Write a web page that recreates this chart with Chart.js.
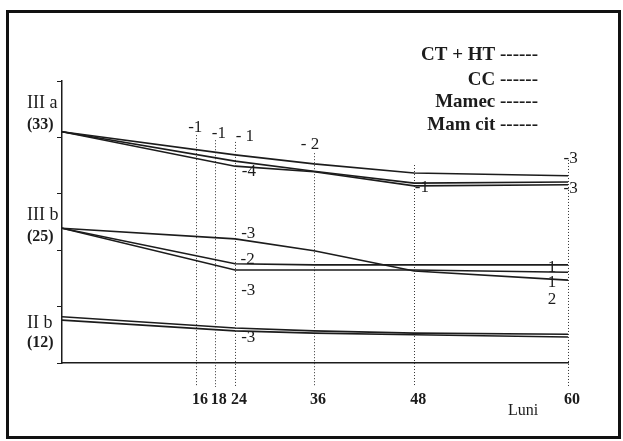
<!DOCTYPE html>
<html>
<head>
<meta charset="utf-8">
<script src="https://cdn.jsdelivr.net/npm/chart.js@4.4.1/dist/chart.umd.min.js"></script>
<style>
html,body{margin:0;padding:0;background:#fff;}
#wrap{position:relative;width:623px;height:441px;}
</style>
</head>
<body>
<div id="wrap"><canvas id="chart" width="623" height="441"></canvas></div>
<script>
// ===== Data =====
const months = [0, 24, 36, 48, 60];
const tickMonths = [16, 18, 24, 36, 48, 60];

// group III a (33)
const iiiA1 = [41.0, 36.9, 35.3, 33.7, 33.2];
const iiiA2 = [41.0, 35.8, 34.0, 31.9, 32.1];
const iiiA3 = [41.0, 34.9, 33.9, 31.4, 31.6];
// group III b (25)
const iiiB1 = [23.9, 22.0, 19.9, 16.3, 14.7];
const iiiB2 = [23.9, 17.6, 17.4, 17.4, 17.4];
const iiiB3 = [23.9, 16.5, 16.5, 16.5, 16.1];
// group II b (12)
const iiB1 = [8.2, 6.2, 5.7, 5.3, 5.1];
const iiB2 = [7.6, 5.7, 5.3, 5.0, 4.6];

const groupNames = ["III a", "III b", "II b"];
const groupCounts = ["(33)", "(25)", "(12)"];
const groupNameValues = [46.1, 26.2, 7.1];
const groupCountValues = [42.2, 22.3, 3.5];

const legendTexts = ["CT + HT ------", "CC ------", "Mamec ------", "Mam cit ------"];

// numbers written next to the curves
const noteTexts  = ["-1", "-1", "- 1", "- 2", "-4", "-1", "-3", "-3", "-3", "-2", "-3", "1", "1", "2", "-3"];
const noteMonths = [15.9, 19.2, 25.5, 35.4, 26.1, 48.6, 60.2, 60.2, 26.0, 25.9, 26.0, 58.75, 58.75, 58.75, 26.0];
const noteValues = [41.7, 40.6, 40.1, 38.7, 33.9, 31.2, 36.2, 31.0, 22.9, 18.4, 12.9, 17.0, 14.2, 11.3, 4.6];

// dotted guides at the ticks, and where each one starts
const guideMonths = [16, 18, 24, 36, 48, 60];
const guideTops = [40.4, 39.5, 39.2, 37.2, 35.1, 36.0];

// ===== Uneven time axis (the original is drawn schematically) =====
const axisMonths = [0, 16, 18, 24, 36, 48, 60];
const axisFrac = [0, 0.265, 0.302, 0.342, 0.498, 0.696, 1];

class PiecewiseScale extends Chart.LinearScale {
  static id = "piecewise";
  static defaults = Chart.LinearScale.defaults;
  monthToDec(v){
    let i = 0;
    while(i < axisMonths.length - 2 && v > axisMonths[i+1]) i++;
    const m0 = axisMonths[i], m1 = axisMonths[i+1];
    return axisFrac[i] + (v - m0) / (m1 - m0) * (axisFrac[i+1] - axisFrac[i]);
  }
  getPixelForValue(v){
    if(v === null || v === undefined) return NaN;
    return this.getPixelForDecimal(this.monthToDec(v));
  }
  getValueForPixel(p){
    const d = this.getDecimalForPixel(p);
    let i = 0;
    while(i < axisFrac.length - 2 && d > axisFrac[i+1]) i++;
    return axisMonths[i] + (d - axisFrac[i]) / (axisFrac[i+1] - axisFrac[i]) * (axisMonths[i+1] - axisMonths[i]);
  }
}
Chart.register(PiecewiseScale);

const serif = "'Liberation Serif', 'Times New Roman', serif";
const ink = "#1c1c1c";

function series(label, vals){
  return {
    label,
    data: months.map((m, i) => ({x: m, y: vals[i]})),
    borderColor: ink,
    borderWidth: 1.6,
    pointRadius: 0,
    tension: 0,
    fill: false
  };
}

// ===== Extra drawing =====
const decor = {
  id: "decor",
  beforeDraw(chart){
    const c = chart.ctx;
    c.save();
    c.fillStyle = "#fff";
    c.fillRect(0, 0, chart.width, chart.height);
    c.strokeStyle = "#111";
    c.lineWidth = 3;
    c.strokeRect(7.5, 11.5, 612, 426);
    c.restore();
  },
  beforeDatasetsDraw(chart){
    const c = chart.ctx, xs = chart.scales.x, ys = chart.scales.y;
    c.save();
    c.strokeStyle = "#333";
    c.lineWidth = 1;
    c.setLineDash([1, 2]);
    guideMonths.forEach((m, i) => {
      const px = Math.round(xs.getPixelForValue(m)) + 0.5;
      c.beginPath();
      c.moveTo(px, ys.getPixelForValue(guideTops[i]));
      c.lineTo(px, chart.chartArea.bottom + 24);
      c.stroke();
    });
    c.restore();
  },
  afterDraw(chart){
    const c = chart.ctx, xs = chart.scales.x, ys = chart.scales.y;
    const left = chart.chartArea.left;
    c.save();
    c.fillStyle = ink;
    c.textBaseline = "middle";

    // group labels by the y axis
    c.textAlign = "left";
    groupNames.forEach((g, i) => {
      c.font = "18px " + serif;
      c.fillText(g, left - 35, ys.getPixelForValue(groupNameValues[i]));
      c.font = "bold 16px " + serif;
      c.fillText(groupCounts[i], left - 35, ys.getPixelForValue(groupCountValues[i]));
    });

    // notes next to the curves
    c.textAlign = "center";
    c.font = "17px " + serif;
    noteTexts.forEach((t, i) => {
      c.fillText(t, xs.getPixelForValue(noteMonths[i]), ys.getPixelForValue(noteValues[i]));
    });

    // legend text
    c.textAlign = "right";
    c.font = "bold 19px " + serif;
    const rows = [55, 80, 102, 125];
    legendTexts.forEach((t, i) => c.fillText(t, 538, rows[i]));

    // axis name
    c.textAlign = "center";
    c.font = "16px " + serif;
    c.fillText("Luni", 523, 411);
    c.restore();
  }
};

new Chart(document.getElementById("chart"), {
  type: "line",
  data: {
    datasets: [
      series("III a 1", iiiA1), series("III a 2", iiiA2), series("III a 3", iiiA3),
      series("III b 1", iiiB1), series("III b 2", iiiB2), series("III b 3", iiiB3),
      series("II b 1", iiB1), series("II b 2", iiB2)
    ]
  },
  options: {
    responsive: false,
    animation: false,
    layout: {padding: {left: 0, top: 81, right: 55, bottom: 0}},
    plugins: {legend: {display: false}, tooltip: {enabled: false}},
    scales: {
      x: {
        type: "piecewise",
        min: 0, max: 60,
        afterBuildTicks: s => { s.ticks = tickMonths.map(v => ({value: v})); },
        afterFit: s => { s.height = 78; },
        grid: {display: false, drawTicks: false},
        border: {display: true, color: ink, width: 1.5},
        ticks: {
          autoSkip: false, maxRotation: 0, padding: 27, labelOffset: 4,
          color: ink, font: {family: serif, size: 16, weight: "bold"}
        }
      },
      y: {
        type: "linear",
        min: 0, max: 50,
        afterFit: s => { s.width = 62; },
        grid: {drawOnChartArea: false, drawTicks: true, tickLength: 5, color: ink},
        border: {display: true, color: ink, width: 1.5},
        ticks: {stepSize: 10, display: false}
      }
    }
  },
  plugins: [decor]
});
</script>
</body>
</html>
